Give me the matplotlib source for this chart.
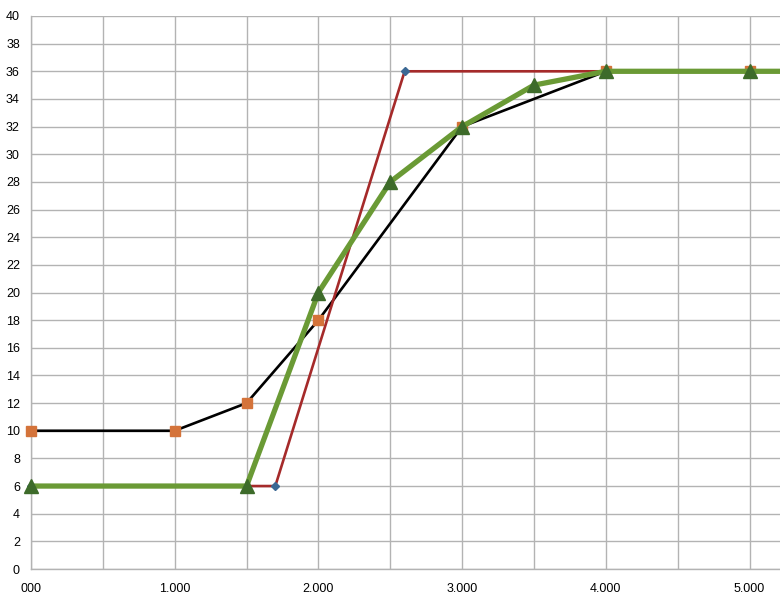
import matplotlib
matplotlib.use("Agg")
import matplotlib.pyplot as plt

plt.rcParams['font.family'] = ['Liberation Sans', 'DejaVu Sans']

red_x = [0, 1700, 2600, 4000]
red_y = [6, 6, 36, 36]
black_x = [0, 1000, 1500, 2000, 3000, 4000, 5000]
black_y = [10, 10, 12, 18, 32, 36, 36]
green_x = [0, 1500, 2000, 2500, 3000, 3500, 4000, 5000, 5500]
green_y = [6, 6, 20, 28, 32, 35, 36, 36, 36]
green_marker_x = [0, 1500, 2000, 2500, 3000, 3500, 4000, 5000]
green_marker_y = [6, 6, 20, 28, 32, 35, 36, 36]

xtick_pos = [0, 1000, 2000, 3000, 4000, 5000]
xtick_labels = ["000", "1.000", "2.000", "3.000", "4.000", "5.000"]
ytick_pos = list(range(0, 41, 2))

fig = plt.figure(figsize=(7.8, 6.09), dpi=100)
ax = fig.add_axes([31/780, 40/609, 1 - 31/780, 553/609])

ax.plot(black_x, black_y, color='black', lw=1.9, zorder=3, clip_on=False,
        marker='s', markersize=6.5, markerfacecolor='#d4733a', markeredgecolor='#d4733a')
ax.plot(red_x, red_y, color='#a52a2a', lw=1.9, zorder=4, clip_on=False,
        marker='D', markersize=4.5, markerfacecolor='#3b6894', markeredgecolor='#3b6894')
ax.plot(green_x, green_y, color='#6a9a35', lw=3.8, zorder=5, solid_capstyle='butt')
ax.plot(green_marker_x, green_marker_y, linestyle='none', zorder=6, clip_on=False,
        marker='^', markersize=10, markerfacecolor='#3d6b2a', markeredgecolor='#3d6b2a')

ax.set_xlim(0, 5212)
ax.set_ylim(0, 40)
ax.set_xticks(xtick_pos)
ax.set_xticklabels(xtick_labels)
ax.set_xticks([500, 1500, 2500, 3500, 4500], minor=True)
ax.set_yticks(ytick_pos)
ax.tick_params(axis='both', which='both', length=0, labelsize=9, colors='black')
ax.tick_params(axis='x', pad=10)
ax.tick_params(axis='y', pad=8)
ax.grid(True, which='both', color='#b3b3b3', lw=1.0)
ax.set_axisbelow(True)
for s in ['top', 'right']:
    ax.spines[s].set_visible(False)
for s in ['left', 'bottom']:
    ax.spines[s].set_color('#b3b3b3')
    ax.spines[s].set_linewidth(1.0)

fig.savefig("out.png", dpi=100)
